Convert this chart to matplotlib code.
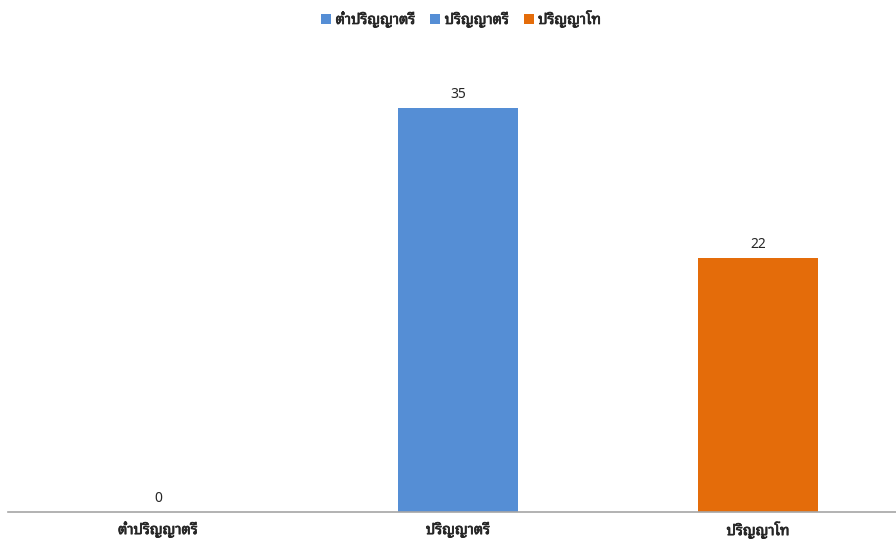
import matplotlib
matplotlib.use('Agg')
import matplotlib.pyplot as plt
import matplotlib.patheffects as pe

categories = ['ต่ำปริญญาตรี', 'ปริญญาตรี', 'ปริญญาโท']
values = [0, 35, 22]
colors = ['#558ED5', '#558ED5', '#E46C0A']

plt.rcParams['font.family'] = ['Noto Sans Thai Looped', 'DejaVu Sans']
text_color = '#262626'
heavy = [pe.withStroke(linewidth=0.5, foreground=text_color)]

fig = plt.figure(figsize=(8.96, 5.39), dpi=100)
ax = fig.add_axes([8 / 896, 27 / 539, 900 / 896, 461.6 / 539])

bars = ax.bar(range(len(values)), values, width=0.4, color=colors, label=categories)
ax.bar_label(bars, padding=4.5, fontsize=10, color=text_color)

ax.set_xlim(-0.5, 2.5)
ax.set_ylim(0, 40)
ax.set_xticks(range(len(categories)))
ax.set_xticklabels(categories, fontsize=10.5, color=text_color)
for t in ax.get_xticklabels():
    t.set_path_effects(heavy)
ax.tick_params(axis='x', length=0, pad=8)
ax.set_yticks([])
for s in ['top', 'right', 'left']:
    ax.spines[s].set_visible(False)
ax.spines['bottom'].set_color('#A6A6A6')
ax.spines['bottom'].set_linewidth(1.2)

leg = fig.legend(loc='center', bbox_to_anchor=(461 / 896, 1 - 20 / 539), ncol=3,
                 frameon=False, handlelength=0.7, handleheight=0.7,
                 handletextpad=0.3, columnspacing=1.0, labelcolor=text_color,
                 prop={'size': 10.5})
for t in leg.get_texts():
    t.set_path_effects(heavy)

plt.savefig('out.png', dpi=100)
